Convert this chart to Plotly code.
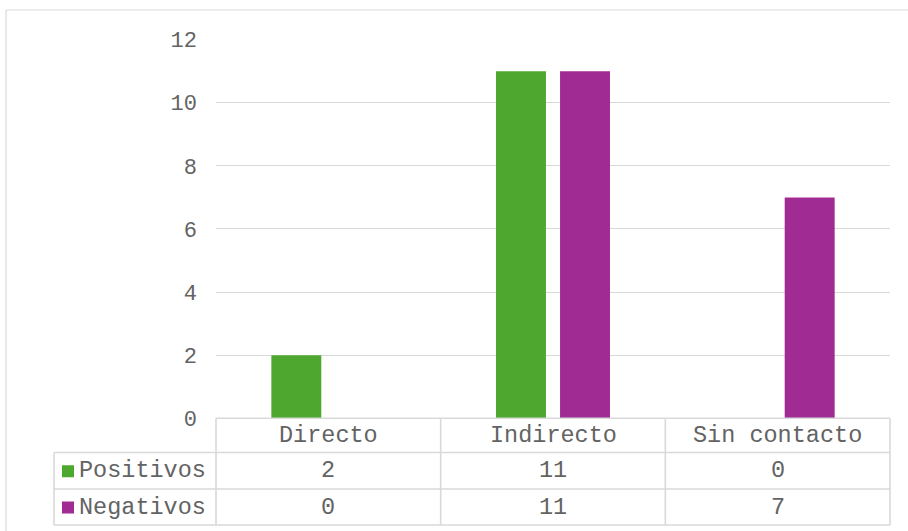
import plotly.graph_objects as go

# Data
categories = ["Directo", "Indirecto", "Sin contacto"]
series_names = ["Positivos", "Negativos"]
positivos = [2, 11, 0]
negativos = [0, 11, 7]
y_ticks = [0, 2, 4, 6, 8, 10, 12]

# Styling
W, H = 908, 531
GREEN = "#4EA72E"
MAGENTA = "#A02B93"
TEXT = "#636363"
LINE = "#D9D9D9"
FONT = "Liberation Mono"
FS_AXIS = 22
FS_TABLE = 23.5


def px(x):
    return x / W


def py(y):
    return 1 - y / H


# plot area in pixels
PL, PR, PT, PB = 216, 890, 39.6, 418.3
ROW1, ROW2, ROW3 = 452.5, 489, 525
TBL_LEFT = 54

fig = go.Figure()
for name, vals, col in [(series_names[0], positivos, GREEN), (series_names[1], negativos, MAGENTA)]:
    fig.add_trace(go.Bar(x=categories, y=vals, name=name, marker=dict(color=col, line=dict(width=0))))

shapes = []
annotations = []


def hline(x0, x1, y, w=1.6):
    shapes.append(dict(type="line", xref="paper", yref="paper", x0=px(x0), x1=px(x1), y0=py(y), y1=py(y),
                       line=dict(color=LINE, width=w)))


def vline(x, y0, y1, w=1.6):
    shapes.append(dict(type="line", xref="paper", yref="paper", x0=px(x), x1=px(x), y0=py(y0), y1=py(y1),
                       line=dict(color=LINE, width=w)))


# chart area border (top and left edges)
hline(6, W, 10, 1.2)
vline(6, 10, H, 1.2)

# data table grid
col_w = (PR - PL) / len(categories)
hline(PL, PR, PB)
hline(TBL_LEFT, PR, ROW1)
hline(TBL_LEFT, PR, ROW2)
hline(TBL_LEFT, PR, ROW3)
vline(TBL_LEFT, ROW1, ROW3)
for i in range(len(categories) + 1):
    vline(PL + i * col_w, PB, ROW3)

# header row
for i, c in enumerate(categories):
    annotations.append(dict(xref="paper", yref="paper", x=px(PL + (i + 0.5) * col_w), y=py((PB + ROW1) / 2),
                            text=c, showarrow=False, xanchor="center", yanchor="middle",
                            font=dict(family=FONT, size=FS_TABLE, color=TEXT)))

# series rows with legend keys
rows = [(series_names[0], positivos, GREEN, ROW1, ROW2), (series_names[1], negativos, MAGENTA, ROW2, ROW3)]
for name, vals, col, r0, r1 in rows:
    ym = (r0 + r1) / 2
    shapes.append(dict(type="rect", xref="paper", yref="paper", x0=px(62), x1=px(74), y0=py(ym + 6.5), y1=py(ym - 5.5),
                       line=dict(width=0), fillcolor=col))
    annotations.append(dict(xref="paper", yref="paper", x=px(77), y=py(ym), text=name, showarrow=False,
                            xanchor="left", yanchor="middle", font=dict(family=FONT, size=FS_TABLE, color=TEXT)))
    for i, v in enumerate(vals):
        annotations.append(dict(xref="paper", yref="paper", x=px(PL + (i + 0.5) * col_w), y=py(ym), text=str(v),
                                showarrow=False, xanchor="center", yanchor="middle",
                                font=dict(family=FONT, size=FS_TABLE, color=TEXT)))

fig.update_layout(
    width=W, height=H, autosize=False,
    margin=dict(l=0, r=0, t=0, b=0, pad=0),
    paper_bgcolor="white", plot_bgcolor="white",
    barmode="group", bargap=0.43, bargroupgap=0.22,
    showlegend=False,
    shapes=shapes, annotations=annotations,
    xaxis=dict(domain=[px(PL), px(PR)], showticklabels=False, showgrid=False, zeroline=False, showline=False,
               automargin=False, fixedrange=True),
    yaxis=dict(domain=[py(PB), py(PT)], range=[0, 12], tickvals=y_ticks, showgrid=True, gridcolor=LINE,
               gridwidth=1.3, zeroline=False, showline=False, ticks="", ticklabelstandoff=18, automargin=False,
               tickfont=dict(family=FONT, size=FS_AXIS, color=TEXT)),
)

fig.write_html("out.html")
